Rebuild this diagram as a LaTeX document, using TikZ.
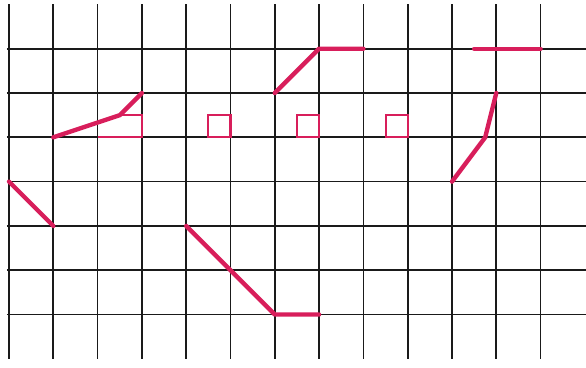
\documentclass[tikz,border=0pt]{standalone}
\usepackage{xcolor}
\usepackage{tikz}
\usetikzlibrary{calc}
\definecolor{gridblack}{HTML}{1A1A1A}
\definecolor{penmagenta}{HTML}{D81E5B}

\begin{document}
\begin{tikzpicture}[x=1cm,y=-1cm,
    gridline/.style={gridblack,line width=1.1pt},
    penline/.style={penmagenta,line width=2.8pt,line cap=round,line join=round},
    boxline/.style={penmagenta,line width=1.3pt}]
  \useasboundingbox[fill=white] (-0.203,-1.1) rectangle (13.025,7.19);
  % grid
  \foreach \i in {0,...,12}
    \draw[gridline] (\i,-1) -- (\i,7);
  \foreach \j in {0,...,6}
    \draw[gridline] (-0.05,\j) -- (13.1,\j);
  % small boxes
  \draw[boxline] (2.5,1.5) -- (3,1.5) -- (3,2) -- (2,2);
  \draw[boxline] (4.5,1.5) rectangle (5,2);
  \draw[boxline] (6.5,1.5) rectangle (7,2);
  \draw[boxline] (8.5,1.5) rectangle (9,2);
  % pen strokes
  \draw[penline] (1,2) -- (2.5,1.5) -- (3,1);
  \draw[penline] (6,1) -- (7,0) -- (8,0);
  \draw[penline] (10.5,0) -- (12,0);
  \draw[penline] (10,3) -- (10.75,2) -- (11,1);
  \draw[penline] (0,3) -- (1,4);
  \draw[penline] (4,4) -- (6,6) -- (7,6);
\end{tikzpicture}
\end{document}
